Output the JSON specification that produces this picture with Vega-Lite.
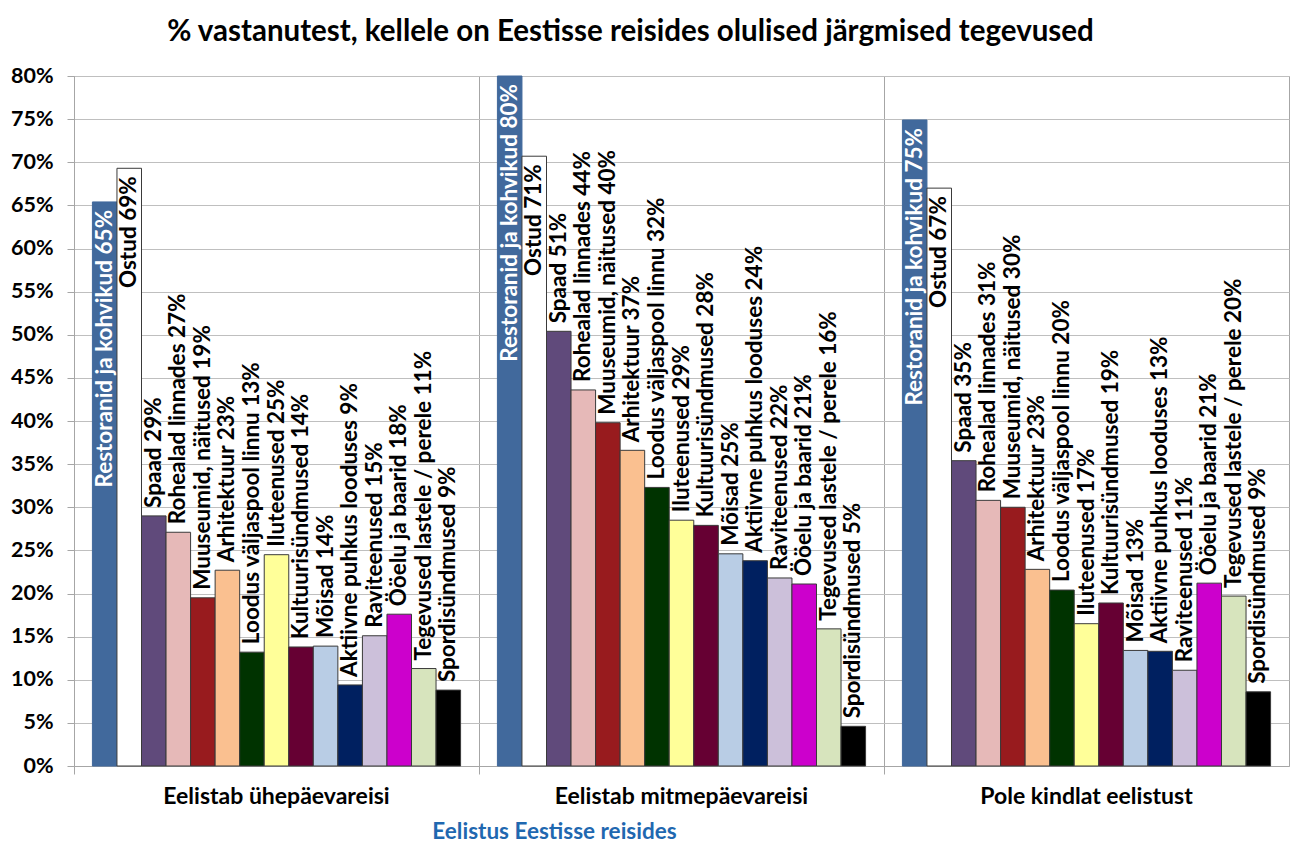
{
  "$schema": "https://vega.github.io/schema/vega-lite/v6.json",
  "autosize": "none",
  "padding": {"left": 74, "top": 76, "right": 1, "bottom": 77},
  "width": 1215,
  "height": 690,
  "background": "white",
  "config": {
    "view": {"stroke": "#A6A6A6", "strokeWidth": 1},
    "font": "Lato"
  },
  "title": {
    "text": "% vastanutest, kellele on Eestisse reisides olulised järgmised tegevused",
    "anchor": "middle",
    "dx": -51,
    "dy": 38,
    "offset": 33,
    "baseline": "alphabetic",
    "font": "Lato",
    "fontSize": 29.5,
    "fontWeight": "bold",
    "color": "#000000"
  },
  "data": {
    "values": [
      {"g": "Eelistab ühepäevareisi", "c": "Restoranid ja kohvikud", "v": 65.4, "lbl": "Restoranid ja kohvikud 65%"},
      {"g": "Eelistab ühepäevareisi", "c": "Ostud", "v": 69.3, "lbl": "Ostud 69%"},
      {"g": "Eelistab ühepäevareisi", "c": "Spaad", "v": 29.0, "lbl": "Spaad 29%"},
      {"g": "Eelistab ühepäevareisi", "c": "Rohealad linnades", "v": 27.1, "lbl": "Rohealad linnades 27%"},
      {"g": "Eelistab ühepäevareisi", "c": "Muuseumid, näitused", "v": 19.5, "lbl": "Muuseumid, näitused 19%"},
      {"g": "Eelistab ühepäevareisi", "c": "Arhitektuur", "v": 22.7, "lbl": "Arhitektuur 23%"},
      {"g": "Eelistab ühepäevareisi", "c": "Loodus väljaspool linnu", "v": 13.2, "lbl": "Loodus väljaspool linnu 13%"},
      {"g": "Eelistab ühepäevareisi", "c": "Iluteenused", "v": 24.5, "lbl": "Iluteenused 25%"},
      {"g": "Eelistab ühepäevareisi", "c": "Kultuurisündmused", "v": 13.8, "lbl": "Kultuurisündmused 14%"},
      {"g": "Eelistab ühepäevareisi", "c": "Mõisad", "v": 13.9, "lbl": "Mõisad  14%"},
      {"g": "Eelistab ühepäevareisi", "c": "Aktiivne puhkus looduses", "v": 9.4, "lbl": "Aktiivne puhkus looduses 9%"},
      {"g": "Eelistab ühepäevareisi", "c": "Raviteenused", "v": 15.1, "lbl": "Raviteenused 15%"},
      {"g": "Eelistab ühepäevareisi", "c": "Ööelu ja baarid", "v": 17.6, "lbl": "Ööelu ja baarid 18%"},
      {"g": "Eelistab ühepäevareisi", "c": "Tegevused lastele / perele", "v": 11.3, "lbl": "Tegevused lastele / perele 11%"},
      {"g": "Eelistab ühepäevareisi", "c": "Spordisündmused", "v": 8.8, "lbl": "Spordisündmused  9%"},
      {"g": "Eelistab mitmepäevareisi", "c": "Restoranid ja kohvikud", "v": 80.0, "lbl": "Restoranid ja kohvikud 80%"},
      {"g": "Eelistab mitmepäevareisi", "c": "Ostud", "v": 70.7, "lbl": "Ostud 71%"},
      {"g": "Eelistab mitmepäevareisi", "c": "Spaad", "v": 50.4, "lbl": "Spaad 51%"},
      {"g": "Eelistab mitmepäevareisi", "c": "Rohealad linnades", "v": 43.6, "lbl": "Rohealad linnades 44%"},
      {"g": "Eelistab mitmepäevareisi", "c": "Muuseumid, näitused", "v": 39.8, "lbl": "Muuseumid, näitused 40%"},
      {"g": "Eelistab mitmepäevareisi", "c": "Arhitektuur", "v": 36.6, "lbl": "Arhitektuur 37%"},
      {"g": "Eelistab mitmepäevareisi", "c": "Loodus väljaspool linnu", "v": 32.3, "lbl": "Loodus väljaspool linnu 32%"},
      {"g": "Eelistab mitmepäevareisi", "c": "Iluteenused", "v": 28.5, "lbl": "Iluteenused 29%"},
      {"g": "Eelistab mitmepäevareisi", "c": "Kultuurisündmused", "v": 27.9, "lbl": "Kultuurisündmused  28%"},
      {"g": "Eelistab mitmepäevareisi", "c": "Mõisad", "v": 24.6, "lbl": "Mõisad 25%"},
      {"g": "Eelistab mitmepäevareisi", "c": "Aktiivne puhkus looduses", "v": 23.8, "lbl": "Aktiivne puhkus looduses 24%"},
      {"g": "Eelistab mitmepäevareisi", "c": "Raviteenused", "v": 21.8, "lbl": "Raviteenused 22%"},
      {"g": "Eelistab mitmepäevareisi", "c": "Ööelu ja baarid", "v": 21.1, "lbl": "Ööelu ja baarid 21%"},
      {"g": "Eelistab mitmepäevareisi", "c": "Tegevused lastele / perele", "v": 15.9, "lbl": "Tegevused lastele / perele 16%"},
      {"g": "Eelistab mitmepäevareisi", "c": "Spordisündmused", "v": 4.6, "lbl": "Spordisündmused  5%"},
      {"g": "Pole kindlat eelistust", "c": "Restoranid ja kohvikud", "v": 74.9, "lbl": "Restoranid ja kohvikud 75%"},
      {"g": "Pole kindlat eelistust", "c": "Ostud", "v": 67.0, "lbl": "Ostud 67%"},
      {"g": "Pole kindlat eelistust", "c": "Spaad", "v": 35.4, "lbl": "Spaad 35%"},
      {"g": "Pole kindlat eelistust", "c": "Rohealad linnades", "v": 30.8, "lbl": "Rohealad linnades 31%"},
      {"g": "Pole kindlat eelistust", "c": "Muuseumid, näitused", "v": 30.0, "lbl": "Muuseumid, näitused 30%"},
      {"g": "Pole kindlat eelistust", "c": "Arhitektuur", "v": 22.8, "lbl": "Arhitektuur 23%"},
      {"g": "Pole kindlat eelistust", "c": "Loodus väljaspool linnu", "v": 20.4, "lbl": "Loodus väljaspool linnu 20%"},
      {"g": "Pole kindlat eelistust", "c": "Iluteenused", "v": 16.5, "lbl": "Iluteenused 17%"},
      {"g": "Pole kindlat eelistust", "c": "Kultuurisündmused", "v": 18.9, "lbl": "Kultuurisündmused 19%"},
      {"g": "Pole kindlat eelistust", "c": "Mõisad", "v": 13.4, "lbl": "Mõisad 13%"},
      {"g": "Pole kindlat eelistust", "c": "Aktiivne puhkus looduses", "v": 13.3, "lbl": "Aktiivne puhkus looduses 13%"},
      {"g": "Pole kindlat eelistust", "c": "Raviteenused", "v": 11.1, "lbl": "Raviteenused 11%"},
      {"g": "Pole kindlat eelistust", "c": "Ööelu ja baarid", "v": 21.2, "lbl": "Ööelu ja baarid 21%"},
      {"g": "Pole kindlat eelistust", "c": "Tegevused lastele / perele", "v": 19.7, "lbl": "Tegevused lastele / perele 20%"},
      {"g": "Pole kindlat eelistust", "c": "Spordisündmused", "v": 8.6, "lbl": "Spordisündmused  9%"}
    ]
  },
  "encoding": {
    "x": {
      "field": "g",
      "type": "nominal",
      "sort": ["Eelistab ühepäevareisi", "Eelistab mitmepäevareisi", "Pole kindlat eelistust"],
      "scale": {"paddingInner": 0, "paddingOuter": 0},
      "axis": {
        "title": "Eelistus Eestisse reisides",
        "titleColor": "#1F68B0",
        "titleFont": "Lato",
        "titleFontSize": 22.5,
        "titleFontWeight": "bold",
        "titleX": 480,
        "titleY": 72,
        "titleAlign": "center",
        "titleAnchor": null,
        "titleBaseline": "alphabetic",
        "labelAngle": 0,
        "labelFont": "Lato",
        "labelFontSize": 23,
        "labelFontWeight": "bold",
        "labelColor": "#000000",
        "labelLimit": 0,
        "labelPadding": 11,
        "labelBaseline": "top",
        "bandPosition": 0,
        "ticks": true,
        "tickSize": 8,
        "tickColor": "#A6A6A6",
        "domainColor": "#A6A6A6",
        "grid": true,
        "gridColor": "#A6A6A6",
        "zindex": 0
      }
    },
    "xOffset": {
      "field": "c",
      "type": "nominal",
      "sort": ["Restoranid ja kohvikud", "Ostud", "Spaad", "Rohealad linnades", "Muuseumid, näitused", "Arhitektuur", "Loodus väljaspool linnu", "Iluteenused", "Kultuurisündmused", "Mõisad", "Aktiivne puhkus looduses", "Raviteenused", "Ööelu ja baarid", "Tegevused lastele / perele", "Spordisündmused"],
      "scale": {"paddingInner": 0, "paddingOuter": 0.75}
    },
    "y": {
      "field": "v",
      "type": "quantitative",
      "scale": {"domain": [0, 80], "nice": false},
      "axis": {
        "title": null,
        "values": [0, 5, 10, 15, 20, 25, 30, 35, 40, 45, 50, 55, 60, 65, 70, 75, 80],
        "labelExpr": "datum.value + '%'",
        "labelFont": "Lato",
        "labelFontSize": 21.5,
        "labelFontWeight": "bold",
        "labelColor": "#000000",
        "labelPadding": 14,
        "tickSize": 7,
        "tickColor": "#A6A6A6",
        "domainColor": "#A6A6A6",
        "grid": true,
        "gridColor": "#BFBFBF",
        "zindex": 0
      }
    }
  },
  "layer": [
    {
      "mark": {"type": "bar", "strokeWidth": 1},
      "encoding": {
        "color": {
          "field": "c",
          "type": "nominal",
          "legend": null,
          "scale": {
            "domain": ["Restoranid ja kohvikud", "Ostud", "Spaad", "Rohealad linnades", "Muuseumid, näitused", "Arhitektuur", "Loodus väljaspool linnu", "Iluteenused", "Kultuurisündmused", "Mõisad", "Aktiivne puhkus looduses", "Raviteenused", "Ööelu ja baarid", "Tegevused lastele / perele", "Spordisündmused"],
            "range": ["#41699C", "#FFFFFF", "#604A7B", "#E6B9B8", "#981B1E", "#FAC090", "#003300", "#FFFF99", "#660033", "#B9CDE5", "#002060", "#CCC0DA", "#CC00CC", "#D7E4BD", "#000000"]
          }
        },
        "stroke": {"condition": {"test": "datum.c === 'Restoranid ja kohvikud'", "value": "#41699C"}, "value": "#3A3A3A"}
      }
    },
    {
      "transform": [{"filter": "datum.c !== 'Restoranid ja kohvikud' && datum.c !== 'Ostud'"}],
      "mark": {"type": "text", "angle": 270, "align": "left", "baseline": "middle", "dx": 8, "font": "Lato", "fontSize": 22.5, "fontWeight": "bold", "color": "#000000"},
      "encoding": {"text": {"field": "lbl"}}
    },
    {
      "transform": [{"filter": "datum.c === 'Restoranid ja kohvikud' || datum.c === 'Ostud'"}],
      "mark": {"type": "text", "angle": 270, "align": "right", "baseline": "middle", "dx": -8, "font": "Lato", "fontSize": 22.5, "fontWeight": "bold"},
      "encoding": {
        "text": {"field": "lbl"},
        "color": {"condition": {"test": "datum.c === 'Ostud'", "value": "#000000"}, "value": "#FFFFFF"}
      }
    }
  ]
}
